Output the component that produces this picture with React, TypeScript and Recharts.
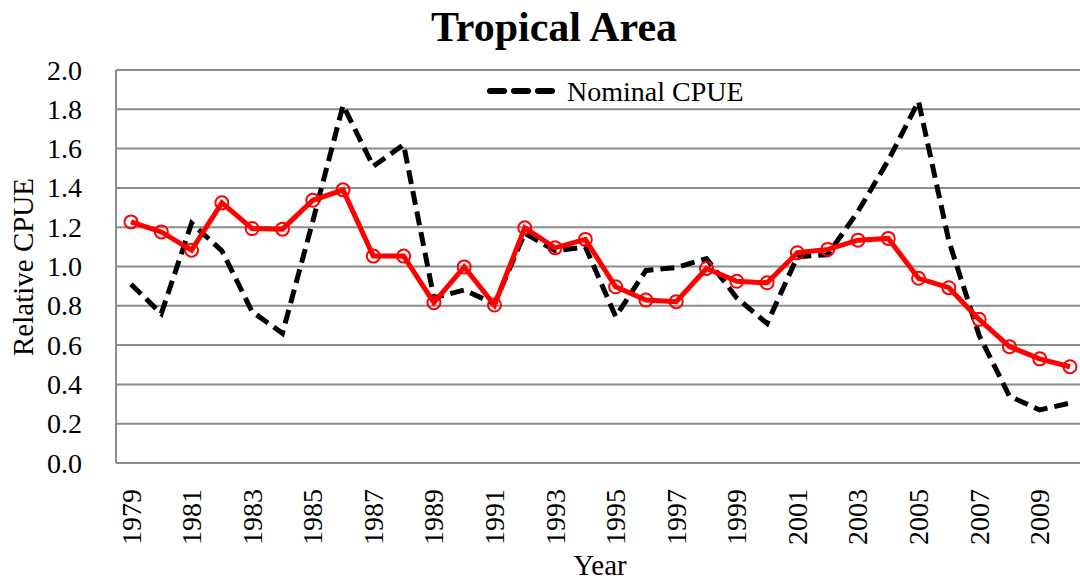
import React from "react";
import { LineChart, Line, XAxis, YAxis, CartesianGrid } from "recharts";

const years: number[] = [1979,1980,1981,1982,1983,1984,1985,1986,1987,1988,1989,1990,1991,1992,1993,1994,1995,1996,1997,1998,1999,2000,2001,2002,2003,2004,2005,2006,2007,2008,2009,2010];
const nominal: number[] = [0.91,0.76,1.22,1.08,0.77,0.66,1.23,1.82,1.51,1.62,0.84,0.88,0.81,1.17,1.08,1.10,0.745,0.98,0.995,1.04,0.84,0.71,1.05,1.06,1.28,1.54,1.84,1.13,0.65,0.34,0.27,0.305];
const standardized: number[] = [1.227,1.176,1.083,1.324,1.193,1.19,1.337,1.39,1.053,1.053,0.816,0.998,0.804,1.197,1.095,1.138,0.897,0.829,0.821,0.99,0.925,0.917,1.07,1.087,1.134,1.143,0.94,0.892,0.731,0.592,0.53,0.49];
const yTicks: number[] = [0, 0.2, 0.4, 0.6, 0.8, 1.0, 1.2, 1.4, 1.6, 1.8, 2.0];

const data = years.map((y, i) => ({ year: String(y), nominal: nominal[i], std: standardized[i] }));

const FONT = '"Liberation Serif", "Times New Roman", serif';

const XTick = (props: any) => {
  const { x, y, payload } = props;
  const ty = y + 18;
  return (
    <text x={x} y={ty} transform={`rotate(-90, ${x}, ${ty})`} textAnchor="end" dominantBaseline="central" fontFamily={FONT} fontSize={28} fill="#000">
      {payload.value}
    </text>
  );
};

const YTick = (props: any) => {
  const { y, payload } = props;
  return (
    <text x={82} y={y} textAnchor="end" dominantBaseline="central" fontFamily={FONT} fontSize={28} fill="#000">
      {Number(payload.value).toFixed(1)}
    </text>
  );
};

export default function App() {
  return (
    <div style={{ position: "absolute", left: 0, top: 0, width: 1080, height: 583, overflow: "hidden", background: "#fff" }}>
      <div style={{ position: "absolute", left: 0, width: 1108, top: 1, textAlign: "center", fontFamily: FONT, fontWeight: "bold", fontSize: 42, lineHeight: "52px" }}>
        Tropical Area
      </div>
      <LineChart width={1090} height={583} data={data} margin={{ top: 70, right: 5, bottom: 0, left: 0 }}>
        <CartesianGrid vertical={false} stroke="#8c8c8c" strokeWidth={2} />
        <XAxis
          dataKey="year"
          interval={1}
          tick={<XTick />}
          tickLine={false}
          axisLine={{ stroke: "#8c8c8c", strokeWidth: 2 }}
          height={120}
          padding={{ left: 15, right: 15 }}
        />
        <YAxis
          domain={[0, 2]}
          ticks={yTicks}
          tickLine={false}
          axisLine={{ stroke: "#8c8c8c", strokeWidth: 2 }}
          width={116}
          tick={<YTick />}
        />
        <Line dataKey="nominal" stroke="#000" strokeWidth={5} strokeDasharray="14 7" dot={false} isAnimationActive={false} />
        <Line dataKey="std" stroke="#ff0000" strokeWidth={5} dot={{ r: 6.5, stroke: "#ff0000", strokeWidth: 2, fill: "none" }} isAnimationActive={false} />
      </LineChart>
      <svg style={{ position: "absolute", left: 0, top: 0, overflow: "visible", pointerEvents: "none" }} width={1080} height={583}>
        <line x1={490} y1={91} x2={552} y2={91} stroke="#000" strokeWidth={6} strokeLinecap="round" strokeDasharray="14 10" />
        <text x={567} y={91} dominantBaseline="central" fontFamily={FONT} fontSize={28} fill="#000">Nominal CPUE</text>
        <text x={23} y={267} transform="rotate(-90, 23, 267)" textAnchor="middle" dominantBaseline="central" fontFamily={FONT} fontSize={29} fill="#000">Relative CPUE</text>
        <text x={600} y={565} textAnchor="middle" dominantBaseline="central" fontFamily={FONT} fontSize={29} fill="#000">Year</text>
      </svg>
    </div>
  );
}
